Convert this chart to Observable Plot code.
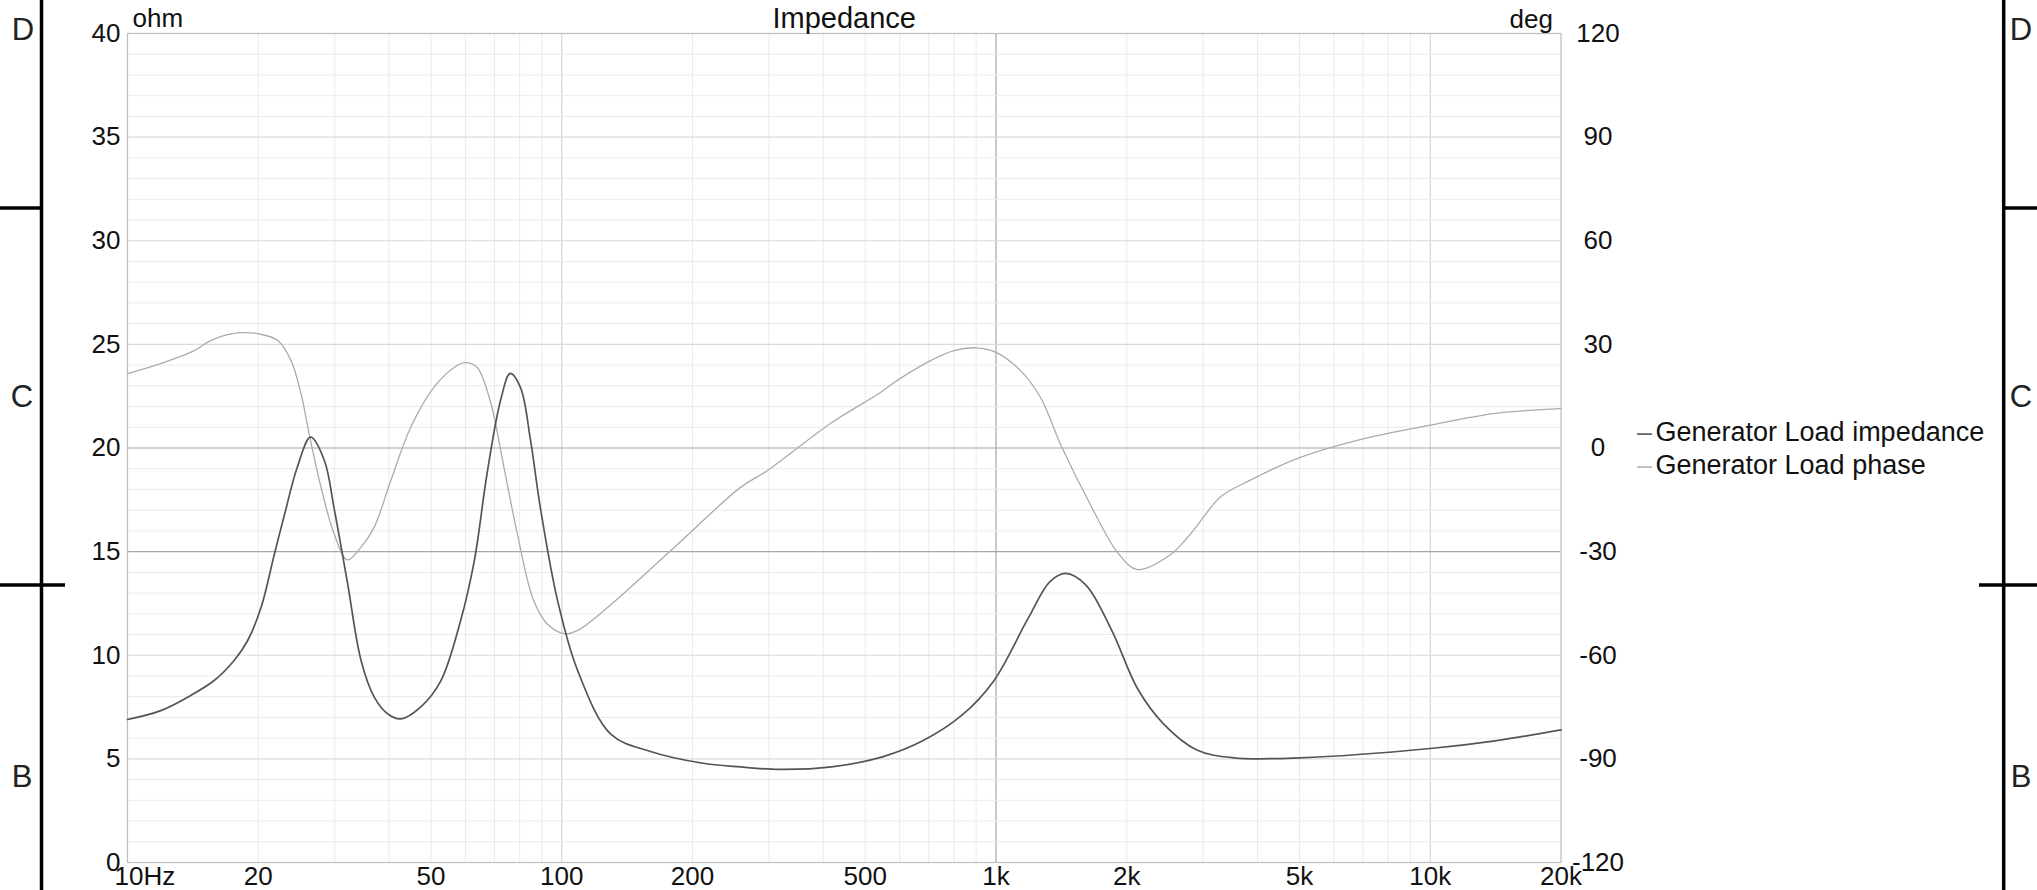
<!DOCTYPE html>
<html>
<head>
<meta charset="utf-8">
<script src="https://cdn.jsdelivr.net/npm/d3@7"></script>
<script src="https://cdn.jsdelivr.net/npm/@observablehq/plot@0.6"></script>
<style>
  html, body { margin: 0; padding: 0; background: #fff; }
  #chart { position: relative; width: 2037px; height: 890px; overflow: hidden; }
</style>
</head>
<body>
<div id="chart"></div>
<script>
// ---- Data ----
const impFreq = [10, 11.93, 13.98, 15.83, 17.6, 18.9, 20.3, 21.8, 23.0, 24.6, 26.4, 28.4, 29.9, 32.1, 34.5, 37.0, 39.7, 42.6, 47.3, 52.7, 58.5, 62.9, 67.3, 72.3, 76.1, 80.4, 84.7, 89.3, 97.9, 108.8, 129.9, 159.4, 210, 258, 317, 418, 550, 678, 836, 987, 1187, 1331, 1446, 1609, 1847, 2120, 2433, 2900, 3527, 5000, 10000, 14100, 20000];
const impOhm  = [6.9, 7.33, 8.06, 8.78, 9.75, 10.7, 12.3, 14.9, 16.8, 19.07, 20.52, 19.4, 17.1, 13.5, 9.75, 7.98, 7.18, 6.93, 7.5, 8.78, 11.68, 14.57, 18.77, 22.3, 23.6, 22.9, 20.4, 17.1, 12.6, 9.26, 6.18, 5.37, 4.8, 4.61, 4.49, 4.61, 5.11, 5.87, 7.12, 8.75, 11.8, 13.55, 13.95, 13.4, 11.2, 8.37, 6.68, 5.43, 5.05, 5.05, 5.5, 5.87, 6.4];

const phaseFreq = [10, 12.15, 14.25, 15.55, 17.9, 20.3, 22.2, 23.8, 25.1, 26.2, 27.9, 29.9, 32.1, 34.5, 37.0, 40.4, 44.9, 50.8, 56.6, 60.0, 63.8, 68.4, 73.6, 79.0, 86.1, 92.5, 101.4, 108.8, 129.9, 183, 258, 297, 418, 541, 596, 707, 800, 901, 1000, 1139, 1265, 1418, 1660, 1906, 2114, 2515, 2800, 3300, 3810, 5000, 7080, 10000, 14120, 20000];
const phaseDeg  = [21.5, 24.8, 28.2, 31.1, 33.3, 32.9, 31.1, 25.3, 15.7, 4.1, -11.3, -24.8, -32.4, -28.7, -22.9, -9.4, 6.0, 17.6, 23.4, 24.7, 23.4, 13.75, -5.6, -24.8, -44.1, -50.9, -53.8, -52.8, -45.3, -28.4, -11.4, -6.6, 7.3, 16.0, 19.8, 25.3, 28.2, 29.0, 27.7, 22.4, 14.7, 0.2, -17.1, -30.3, -35.2, -31.0, -25.0, -14.0, -9.6, -2.8, 2.8, 6.6, 10.0, 11.4];

const xTicks      = [10, 20, 50, 100, 200, 500, 1000, 2000, 5000, 10000, 20000];
const xTickLabels = ["10Hz", "20", "50", "100", "200", "500", "1k", "2k", "5k", "10k", "20k"];
const ohmTicks    = [0, 5, 10, 15, 20, 25, 30, 35, 40];
const degTicks    = [-120, -90, -60, -30, 0, 30, 60, 90, 120];

const seriesNames = ["Generator Load impedance", "Generator Load phase"];

// grid positions
const minorFreqs = [20, 30, 40, 50, 60, 70, 80, 90, 200, 300, 400, 500, 600, 700, 800, 900, 2000, 3000, 4000, 5000, 6000, 7000, 8000, 9000];
const midFreqs = [100, 10000];
const strongFreqs = [1000];
const minorOhm = d3.range(1, 40).filter(d => d % 5 !== 0);
const majorOhmLight = [5, 10, 25, 30, 35];
const majorOhmStrong = [15, 20];

// phase (-120..120 deg) shares the ohm axis (0..40)
const degToOhm = d => (d + 120) / 6;

const impData = impFreq.map((f, i) => ({f, v: impOhm[i]}));
const phaseData = phaseFreq.map((f, i) => ({f, v: degToOhm(phaseDeg[i])}));

const xLabel = d => xTickLabels[xTicks.indexOf(d)];
const degLabel = d => String(degTicks[ohmTicks.indexOf(d)]);

const FONT = "'Liberation Sans', Arial, Helvetica, sans-serif";

const chart = Plot.plot({
  width: 2037,
  height: 890,
  marginLeft: 127,
  marginRight: 476.5,
  marginTop: 33,
  marginBottom: 28,
  style: {fontFamily: FONT, fontSize: "26px", background: "#fff", color: "#111", overflow: "visible"},
  x: {type: "log", domain: [10, 20000], axis: null},
  y: {domain: [0, 40], axis: null},
  marks: [
    Plot.ruleX(minorFreqs, {stroke: "#ebebeb", strokeWidth: 1}),
    Plot.ruleX(midFreqs, {stroke: "#d4d4d4", strokeWidth: 1.2}),
    Plot.ruleX(strongFreqs, {stroke: "#a6a6a6", strokeWidth: 1.2}),
    Plot.ruleY(minorOhm, {stroke: "#ebebeb", strokeWidth: 1}),
    Plot.ruleY(majorOhmLight, {stroke: "#dadada", strokeWidth: 1.2}),
    Plot.ruleY(majorOhmStrong, {stroke: "#a6a6a6", strokeWidth: 1.2}),
    Plot.frame({stroke: "#bdbdbd", strokeWidth: 1.2}),

    Plot.line(phaseData, {x: "f", y: "v", stroke: "#ababab", strokeWidth: 1.3, curve: "catmull-rom"}),
    Plot.line(impData, {x: "f", y: "v", stroke: "#555", strokeWidth: 1.7, curve: "catmull-rom"}),

    // left axis (ohm)
    Plot.axisY(ohmTicks, {anchor: "left", label: null, tickSize: 0, tickPadding: 7, fontSize: 26, fill: "#111", tickFormat: d => String(d)}),
    // right axis (deg)
    Plot.axisY(ohmTicks, {anchor: "right", label: null, tickSize: 0, tickPadding: 0, dx: 37, textAnchor: "middle", fontSize: 26, fill: "#111", tickFormat: degLabel}),
    // bottom axis
    Plot.axisX(xTicks.slice(1), {anchor: "bottom", label: null, tickSize: 0, tickPadding: 4, fontSize: 26, fill: "#111", tickFormat: xLabel}),
    Plot.text(xTicks.slice(0, 1), {x: d => d, frameAnchor: "bottom", lineAnchor: "top", dy: 4, dx: -13, textAnchor: "start", fontSize: 26, fill: "#111", text: xLabel}),

    // titles / units
    Plot.text(["Impedance"], {frameAnchor: "top", lineAnchor: "bottom", dy: -6, fontSize: 29, fill: "#111", text: d => d}),
    Plot.text(["ohm"], {frameAnchor: "top-left", lineAnchor: "bottom", textAnchor: "start", dx: 5, dy: -7, fontSize: 26, fill: "#111", text: d => d}),
    Plot.text(["deg"], {frameAnchor: "top-right", lineAnchor: "bottom", textAnchor: "end", dx: -8, dy: -6, fontSize: 26, fill: "#111", text: d => d}),

    // legend
    Plot.text(["–"], {frameAnchor: "right", textAnchor: "start", lineAnchor: "middle", dx: 76, dy: -16, fontSize: 27, fill: "#666", text: d => d}),
    Plot.text(["–"], {frameAnchor: "right", textAnchor: "start", lineAnchor: "middle", dx: 76, dy: 17, fontSize: 27, fill: "#bbb", text: d => d}),
    Plot.text([seriesNames[0]], {frameAnchor: "right", textAnchor: "start", lineAnchor: "middle", dx: 94.5, dy: -15.5, fontSize: 27, fill: "#111", text: d => d}),
    Plot.text([seriesNames[1]], {frameAnchor: "right", textAnchor: "start", lineAnchor: "middle", dx: 94.5, dy: 17.5, fontSize: 27, fill: "#111", text: d => d})
  ]
});

document.getElementById("chart").appendChild(chart);

// ---- drawing-frame decoration (border zones D / C / B) ----
const svg = d3.select(chart);
const deco = svg.append("g").attr("stroke", "#000").attr("stroke-width", 3.5);
const frameLines = [
  [41.5, 0, 41.5, 890], [2003.7, 0, 2003.7, 890],
  [0, 208, 41.5, 208], [0, 585, 65, 585],
  [2003.7, 208, 2037, 208], [1979, 585, 2037, 585]
];
deco.selectAll("line").data(frameLines).join("line")
  .attr("x1", d => d[0]).attr("y1", d => d[1]).attr("x2", d => d[2]).attr("y2", d => d[3]);
const zoneLetters = [["D", 23, 29], ["C", 22, 396], ["B", 22, 776], ["D", 2021, 29], ["C", 2021, 396], ["B", 2021, 776]];
svg.append("g").attr("font-family", FONT).attr("font-size", 31).attr("fill", "#222")
  .attr("text-anchor", "middle").attr("dominant-baseline", "central")
  .selectAll("text").data(zoneLetters).join("text")
  .attr("x", d => d[1]).attr("y", d => d[2]).text(d => d[0]);
</script>
</body>
</html>
